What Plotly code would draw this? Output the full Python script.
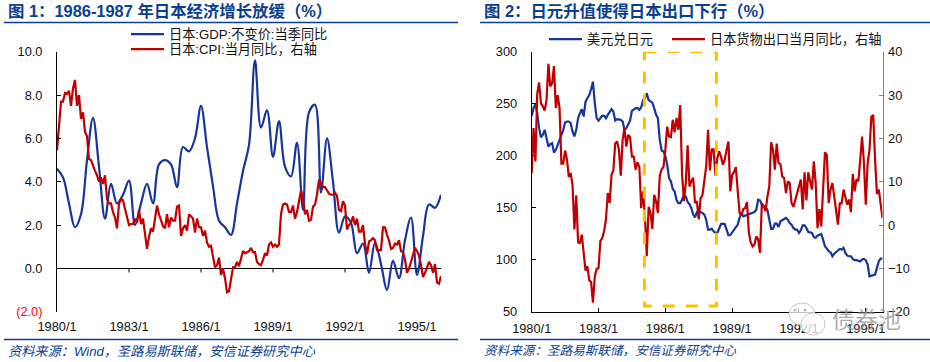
import plotly.graph_objects as go

W, H = 930, 362
FONT = "Liberation Sans, Arial, Noto Sans CJK SC, sans-serif"
NAVY = "#0B3F8F"
BLUE = "#17359B"
RED = "#C00000"
GOLD = "#FFC000"

tick_labels = ["1980/1", "1983/1", "1986/1", "1989/1", "1992/1", "1995/1"]
tick_months = [0, 36, 72, 108, 144, 180]

# Chart 1: quarterly, from 1980/1
gdp_quarter = [4.6, 4.2, 3.0, 1.9, 2.5, 5.0, 6.95, 4.7, 2.3, 3.9, 3.0, 3.4, 4.05, 2.0, 3.0, 3.9,
               3.0, 4.8, 5.0, 4.8, 3.75, 5.6, 5.4, 6.0, 7.5, 5.6, 3.8, 2.2, 1.9, 1.55, 3.0, 4.5,
               5.7, 9.6, 6.5, 7.3, 5.15, 6.8, 4.7, 4.25, 5.8, 2.7, 7.2, 7.55, 3.5, 6.0, 4.0, 1.65,
               2.4, 2.1, 0.7, 1.15, -0.2, 1.2, 0.2, -1.0, 0.35, -0.45, 1.3, 2.35, -0.3, 1.5, 2.95, 2.8, 3.4]
# Chart 1: monthly, from 1980/1
cpi_month = [5.45, 6.5, 7.7, 7.7, 8.1, 8.05, 8.2, 7.5, 8.3, 8.7, 7.5, 8.0, 6.9, 7.2, 6.3, 6.1, 5.05, 5.0, 4.7, 4.5,
             4.3, 4.0, 4.2, 3.9, 4.3, 3.2, 3.0, 3.0, 2.6, 2.35, 1.85, 3.0, 3.2, 3.15, 2.75, 2.3, 2.0, 2.05, 2.05, 2.3,
             2.1, 2.7, 2.05, 2.3, 1.6, 0.9, 1.45, 1.85, 1.7, 2.35, 2.9, 2.5, 2.25, 1.95, 1.85, 2.5, 1.9, 2.35, 2.2, 2.2,
             2.85, 2.9, 1.5, 1.85, 2.0, 1.75, 2.5, 2.4, 2.3, 1.65, 2.3, 1.9, 1.9, 1.5, 1.75, 1.2, 1.0, 1.05, 0.55, 0.05,
             0.15, 0.5, -0.3, 0.0, -0.45, -1.1, -1.05, -0.45, 0.05, 0.05, 0.3, 0.1, 0.45, 0.8, 0.7, 0.75, 0.8, 0.95, 0.75, 0.75,
             0.3, 0.2, 0.15, 0.4, 0.7, 0.6, 1.1, 1.2, 1.0, 1.1, 1.0, 1.1, 2.5, 2.95, 3.0, 2.95, 2.6, 2.6, 2.9, 2.3,
             2.6, 3.1, 3.6, 3.25, 2.5, 2.7, 2.2, 2.25, 2.85, 2.95, 3.4, 4.1, 3.95, 3.75, 3.75, 3.6, 3.45, 3.4, 3.4, 3.5,
             3.35, 2.7, 2.65, 3.1, 2.9, 1.8, 2.0, 2.1, 2.4, 2.0, 2.3, 1.7, 1.7, 2.0, 1.15, 0.65, 1.25, 1.3, 1.4, 1.3,
             0.85, 0.85, 0.85, 1.9, 1.9, 1.55, 1.3, 0.9, 0.95, 1.15, 1.1, 1.3, 0.8, 0.75, 0.4, -0.2, 0.0, 0.3, 0.65, 0.95,
             0.8, 0.6, 0.15, -0.4, -0.2, 0.05, 0.3, 0.15, -0.2, 0.2, -0.65, -0.7, -0.35]

# Chart 2: monthly, from 1980/1
usd_jpy = [238.3, 245.7, 249.8, 240.9, 226.5, 217.8, 220.1, 224.9, 216.9, 208.9, 211.1, 212.1, 203.1, 205.7, 210.5, 215.3,
           221.7, 224.9, 231.9, 232.9, 232.9, 231.3, 223.3, 218.5, 224.9, 236.1, 240.9, 244.7, 237.7, 252, 255.2, 258.4,
           263.9, 271.2, 250.4, 236.1, 233.8, 236.1, 238.6, 238.3, 236.1, 239.3, 241.5, 244.7, 242.5, 233.8, 235.1, 235.1,
           234.5, 232.9, 224.9, 226.5, 230.6, 233.8, 243.1, 244.1, 245.7, 245.7, 244.1, 246.6, 253.6, 255.2, 260, 253.6,
           252, 251.1, 245.7, 239.3, 236.1, 215.3, 205.1, 204.1, 199.9, 191.3, 178.5, 175.3, 168, 165.7, 157.7, 154.5,
           154.5, 157.7, 162.5, 160.9, 155.5, 153.6, 149.7, 143.4, 140.8, 145.6, 148.1, 145.6, 144.9, 143.4, 138.6, 129,
           129, 129.9, 127.4, 125.8, 125.8, 130.6, 134.4, 134.7, 134.4, 129, 123.5, 123.8, 126.4, 129, 130.6, 133.8,
           140.2, 145, 141.8, 142.4, 143.4, 144.3, 144.6, 145, 145.9, 148.1, 157.7, 157.1, 152.9, 152, 149.7, 148.1,
           138.6, 129.6, 129.9, 134.7, 134.7, 131.5, 137, 137.9, 138.6, 140.2, 138.6, 135.4, 133.8, 130.6, 129, 129,
           125.8, 128.3, 133.1, 133.1, 130.6, 126.7, 126.4, 125.8, 122, 121, 123.2, 124.2, 124.8, 119.4, 113, 110.7,
           108.2, 107.2, 103.4, 105.9, 107.5, 109.1, 110.4, 109.8, 111.4, 106.6, 104, 103.4, 103.4, 100.8, 99.6, 99.6,
           99.2, 98.3, 100.2, 100.8, 99.6, 95.4, 84.2, 84.8, 84.8, 85.8, 92.2, 98.6, 101.2, 101.2]
export_yoy = [12.0, 22.4, 14.7, 30.4, 32.9, 28.1, 27.4, 26.4, 28.9, 37.2, 32.0, 32.7, 36.7, 27.0, 30.0, 27.0,
              14.2, 14.2, 17.2, 15.1, 11.1, 12.0, 9.3, -1.0, 6.9, -4.0, -4.1, -2.2, -6.4, -10.5, -9.5, -12.7,
              -13.1, -17.9, -11.8, -10.1, -9.9, -3.7, -3.0, -1.4, 1.3, 7.4, 5.1, 11.6, 12.6, 18.9, 19.3, 17.4,
              11.4, 19.7, 22.4, 18.1, 20.8, 20.3, 15.8, 15.8, 12.8, 14.5, 13.4, 3.9, 7.8, 2.0, -7.2, 4.2,
              2.8, -0.9, 7.0, 5.5, 2.8, 11.4, 12.9, 13.4, 17.4, 22.7, 20.4, 20.3, 24.3, 21.4, 24.7, 22.0,
              27.7, 12.0, 5.5, 9.7, 18.4, 8.9, 10.1, 10.9, 5.1, 5.5, 1.3, 6.2, 6.9, 9.7, 13.5, 22.0,
              12.6, 17.5, 17.5, 11.4, 15.5, 17.0, 15.8, 13.9, 15.1, 17.4, 19.3, 7.8, 11.6, 12.2, 13.4, 7.8,
              2.8, 2.3, 3.7, 3.9, 5.3, -1.8, -4.0, -4.9, -4.5, -2.6, -3.3, -6.4, 5.0, 4.3, 3.2, 6.6,
              8.9, 19.1, 17.4, 12.8, 18.8, 14.3, 14.1, 11.2, 10.9, 7.4, 10.1, 9.7, 5.1, 4.2, 5.9, 7.6,
              9.3, 10.5, 3.6, 12.2, 5.7, 12.2, 10.1, 8.2, 14.7, 9.7, -0.7, 3.7, -0.3, 8.2, 16.8, 16.2,
              5.1, 8.2, 9.7, 6.6, 3.6, 0.1, 5.0, 5.0, 8.2, 6.6, 4.7, 5.9, 3.0, 11.8, 7.8, 10.6,
              10.1, 15.1, 20.4, 14.3, 4.7, 14.3, 17.4, 25.0, 25.4, 15.1, 7.2, 8.2, 5.1, 1.6]

titles = ["图 1：1986-1987 年日本经济增长放缓（%）", "图 2：日元升值使得日本出口下行（%）"]
sources = ["资料来源：Wind，圣路易斯联储，安信证券研究中心", "资料来源：圣路易斯联储，安信证券研究中心"]


def px(x):
    return x / W


def py(y):
    return 1 - y / H


fig = go.Figure()
fig.add_trace(go.Scatter(x=[i * 3 for i in range(len(gdp_quarter))], y=gdp_quarter, mode="lines",
                         name="日本:GDP:不变价:当季同比", line=dict(color=BLUE, width=2.2, shape="spline", smoothing=1),
                         xaxis="x", yaxis="y", legend="legend"))
fig.add_trace(go.Scatter(x=list(range(len(cpi_month))), y=cpi_month, mode="lines",
                         name="日本:CPI:当月同比，右轴", line=dict(color=RED, width=2.2),
                         xaxis="x", yaxis="y", legend="legend2"))
fig.add_trace(go.Scatter(x=list(range(len(usd_jpy))), y=usd_jpy, mode="lines",
                         name="美元兑日元", line=dict(color=BLUE, width=2.2),
                         xaxis="x2", yaxis="y2", legend="legend3"))
fig.add_trace(go.Scatter(x=list(range(len(export_yoy))), y=export_yoy, mode="lines",
                         name="日本货物出口当月同比，右轴", line=dict(color=RED, width=2.2),
                         xaxis="x2", yaxis="y3", legend="legend4"))

tf = dict(family=FONT, size=12.8, color="#111111")
lf = dict(family=FONT, size=13.2, color="#111111")
top, bottom = 51.7, 311.8


def legend_at(x, y):
    return dict(x=px(x), y=py(y), xanchor="left", yanchor="top", bgcolor="rgba(0,0,0,0)", font=lf, itemwidth=33)


fig.update_layout(
    template="none",
    width=W, height=H, margin=dict(l=0, r=0, t=0, b=0), paper_bgcolor="white", plot_bgcolor="white",
    font=dict(family=FONT, size=12.8, color="#111111"),
    showlegend=True,
    xaxis=dict(domain=[px(57), px(441)], range=[0, 192], tickvals=tick_months, ticktext=tick_labels, automargin=False,
               showgrid=False, zeroline=False, showline=False, ticks="", tickfont=tf, ticklabelstandoff=5),
    yaxis=dict(domain=[py(bottom), py(top)], range=[-2, 10], tickvals=[-2, 0, 2, 4, 6, 8, 10], automargin=False,
               ticktext=['<span style="color:#FF0000">(2.0)</span>', "0.0", "2.0", "4.0", "6.0", "8.0", "10.0"],
               showgrid=False, zeroline=True, zerolinecolor="black", zerolinewidth=1, showline=True,
               linecolor="black", linewidth=1, ticks="inside", ticklen=4, tickcolor="black", tickfont=tf,
               ticklabelstandoff=11),
    xaxis2=dict(domain=[px(531.7), px(882.5)], range=[0, 189], tickvals=tick_months, ticktext=tick_labels,
                anchor="y2", showgrid=False, zeroline=False, showline=True, linecolor="black", linewidth=1, automargin=False,
                ticks="inside", ticklen=4, tickcolor="black", tickfont=tf, ticklabelstandoff=5),
    yaxis2=dict(domain=[py(bottom), py(top)], anchor="x2", range=[50, 300], tickvals=[50, 100, 150, 200, 250, 300],
                showgrid=False, zeroline=False, showline=True, linecolor="black", linewidth=1, automargin=False,
                ticks="inside", ticklen=4, tickcolor="black", tickfont=tf, ticklabelstandoff=11),
    yaxis3=dict(domain=[py(bottom), py(top)], anchor="x2", overlaying="y2", side="right", range=[-20, 40], automargin=False,
                tickvals=[-20, -10, 0, 10, 20, 30, 40], showgrid=False, zeroline=False, showline=True,
                linecolor="#808080", linewidth=1, ticks="inside", ticklen=4, tickcolor="#808080", tickfont=tf,
                ticklabelstandoff=2),
    legend=legend_at(126, 19),
    legend2=legend_at(126, 34),
    legend3=legend_at(544, 24),
    legend4=legend_at(667, 24),
)

box_x0, box_x1, box_y0, box_y1 = 60.7, 99.5, 55.5, 300
shapes = [
    # rules under the titles and above the source lines
    dict(type="line", xref="paper", yref="paper", x0=px(4), x1=px(458), y0=py(22.5), y1=py(22.5), line=dict(color=NAVY, width=1.3)),
    dict(type="line", xref="paper", yref="paper", x0=px(480), x1=1, y0=py(22.5), y1=py(22.5), line=dict(color=NAVY, width=1.3)),
    dict(type="line", xref="paper", yref="paper", x0=px(4), x1=px(458), y0=py(339.5), y1=py(339.5), line=dict(color=NAVY, width=1.3)),
    dict(type="line", xref="paper", yref="paper", x0=px(480), x1=1, y0=py(339.5), y1=py(339.5), line=dict(color=NAVY, width=1.3)),
    # highlighted period on chart 2, drawn clockwise from the top-left corner
    dict(type="path", xref="x2", yref="y2", layer="above",
         path=f"M {box_x0} {box_y1} L {box_x1} {box_y1} L {box_x1} {box_y0} L {box_x0} {box_y0} Z",
         line=dict(color=GOLD, width=3, dash="12px,11px")),
    # watermark bubbles
    dict(type="circle", xref="paper", yref="paper", x0=px(789), x1=px(815), y0=py(325), y1=py(303), layer="above",
         line=dict(color="#C8C8C8", width=1), fillcolor="rgba(255,255,255,0.75)"),
    dict(type="circle", xref="paper", yref="paper", x0=px(801), x1=px(825), y0=py(335), y1=py(313), layer="above",
         line=dict(color="#C8C8C8", width=1), fillcolor="rgba(255,255,255,0.75)"),
]
for dot in [(795, 310), (805, 310)]:
    shapes.append(dict(type="circle", xref="paper", yref="paper", x0=px(dot[0] - 1.5), x1=px(dot[0] + 1.5),
                       y0=py(dot[1] + 1.5), y1=py(dot[1] - 1.5), layer="above",
                       line=dict(width=0), fillcolor="#BBBBBB"))
# upward ticks on chart 1's zero line
for m in tick_months[1:]:
    shapes.append(dict(type="line", xref="x", yref="y", ysizemode="pixel", yanchor=0, x0=m, x1=m, y0=0, y1=-4,
                       line=dict(color="black", width=1)))
fig.update_layout(shapes=shapes)

ann = []
for t, x in zip(titles, [6, 482]):
    ann.append(dict(text=f"<b>{t}</b>", x=px(x), y=py(10.5), xref="paper", yref="paper", xanchor="left", yanchor="middle",
                    showarrow=False, font=dict(family=FONT, size=16.4, color=NAVY)))
for t, x, s in zip(sources, [6, 482], [13.2, 12.6]):
    ann.append(dict(text=f"<i>{t}</i>", x=px(x), y=py(351), xref="paper", yref="paper", xanchor="left", yanchor="middle",
                    showarrow=False, font=dict(family=FONT, size=s, color=NAVY)))
ann.append(dict(text="债券池", x=px(866), y=py(320), xref="paper", yref="paper", xanchor="center", yanchor="middle",
                showarrow=False, font=dict(family=FONT, size=23, color="rgba(150,150,150,0.8)")))
fig.update_layout(annotations=ann)

fig.write_html("out.html", config=dict(displayModeBar=False), post_script="document.body.style.margin='0';")
